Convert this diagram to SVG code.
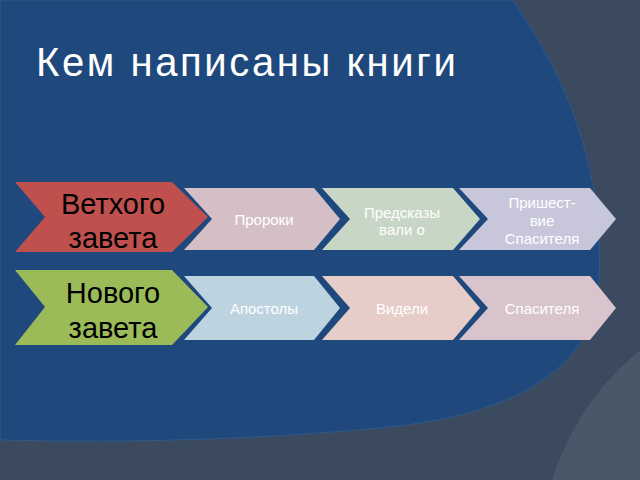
<svg xmlns="http://www.w3.org/2000/svg" width="640" height="480" viewBox="0 0 640 480">
<style>
.t{font-family:"Liberation Sans",Arial,sans-serif;text-anchor:middle}
.big{font-size:29px;fill:#000}
.sm{font-size:15px;fill:#fff}
</style>
<rect width="640" height="480" fill="#3b4a5f"/>
<circle cx="810" cy="560" r="270" fill="#4a5768"/>
<path d="M0,0 L513,0 Q612,140 598,300 Q575,410 380,428 Q200,445 0,440 Z" fill="#1f497d" stroke="#2f5a8a" stroke-width="1"/>
<text x="36" y="76" font-family="Liberation Sans,Arial,sans-serif" font-size="40" fill="#fff" letter-spacing="2.6">Кем написаны книги</text>
<g id="n1"><polygon points="15,182 172,182 208,217 172,252 15,252 45,217" fill="#c0504d"/><text class="t big" x="113" y="214">Ветхого</text><text class="t big" x="113" y="248">завета</text></g>
<g id="n2"><polygon points="184,188 314,188 340,219 314,250 184,250 212,219" fill="#d5bfc7"/><text class="t sm" x="264" y="225">Пророки</text></g>
<g id="n3"><polygon points="322,188 453,188 480,219 453,250 322,250 350,219" fill="#c8d6c5"/><text class="t sm" x="402" y="218">Предсказы</text><text class="t sm" x="402" y="235">вали о</text></g>
<g id="n4"><polygon points="459,188 590,188 616,219 590,250 459,250 488,219" fill="#c7c6db"/><text class="t sm" x="542" y="208">Пришест-</text><text class="t sm" x="542" y="226">вие</text><text class="t sm" x="542" y="244">Спасителя</text></g>
<g id="n5"><polygon points="15,270 172,270 208,307 172,345 15,345 45,307" fill="#9bbb59"/><text class="t big" x="113" y="303">Нового</text><text class="t big" x="113" y="338">завета</text></g>
<g id="n6"><polygon points="184,276 314,276 340,308 314,340 184,340 212,308" fill="#bdd3e0"/><text class="t sm" x="264" y="314">Апостолы</text></g>
<g id="n7"><polygon points="322,276 453,276 480,308 453,340 322,340 350,308" fill="#e6cdc8"/><text class="t sm" x="402" y="314">Видели</text></g>
<g id="n8"><polygon points="459,276 590,276 616,308 590,340 459,340 488,308" fill="#d8c4cc"/><text class="t sm" x="542" y="314">Спасителя</text></g>
<g id="connectors"/>
</svg>
